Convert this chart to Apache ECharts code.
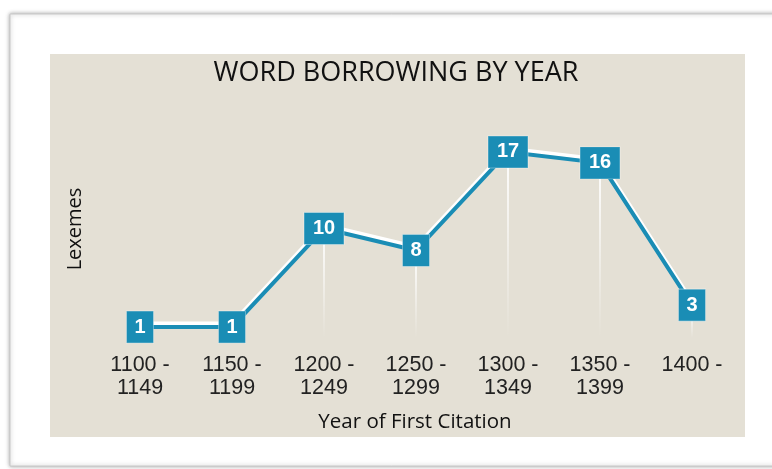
<!DOCTYPE html>
<html><head><meta charset="utf-8">
<script src="https://cdn.jsdelivr.net/npm/echarts@6/dist/echarts.min.js"></script>
<style>html,body{margin:0;padding:0;background:#fff}#c{width:772px;height:469px}</style>
</head><body><div id="c"></div>
<script>
const categories = ['1100 -\n1149','1150 -\n1199','1200 -\n1249','1250 -\n1299','1300 -\n1349','1350 -\n1399','1400 -'];
const lexemes = [1, 1, 10, 8, 17, 16, 3];
const titleText = 'WORD BORROWING BY YEAR';
const xName = 'Year of First Citation';
const yName = 'Lexemes';

const blue = '#1a8db5';
const chart = echarts.init(document.getElementById('c'));
chart.setOption({
  backgroundColor: '#fff',
  animation: false,
  graphic: [
    {type:'rect', shape:{x:10,y:14,width:790,height:452}, style:{fill:'#fff', stroke:'#c8c8c8', lineWidth:1, shadowBlur:4, shadowColor:'rgba(0,0,0,0.35)', shadowOffsetX:0, shadowOffsetY:0}, z:-10},
    {type:'rect', shape:{x:50,y:54,width:695,height:383}, style:{fill:'#e4e0d5'}, z:-9},
    {type:'text', x:396, y:73, style:{text:titleText, font:'27px "Open Sans"', fill:'#111', align:'center', verticalAlign:'middle'}, z:5},
    {type:'text', x:415, y:422, style:{text:xName, font:'20.5px "Open Sans"', fill:'#111', align:'center', verticalAlign:'middle'}, z:5},
    {type:'text', x:75, y:229, rotation:Math.PI/2, style:{text:yName, font:'20px "Open Sans"', fill:'#111', align:'center', verticalAlign:'middle'}, z:5}
  ],
  grid: {left:94, width:644, top:141, height:197},
  xAxis: {
    type:'category', data:categories, boundaryGap:true,
    axisLine:{show:false}, axisTick:{show:false},
    axisLabel:{color:'#222', fontSize:21.5, fontFamily:'Liberation Sans, Arial', lineHeight:23, margin:16, interval:0}
  },
  yAxis: {type:'value', min:0, max:18, show:false, splitLine:{show:false}},
  series: [
    {
      type:'bar', data:lexemes, barWidth:2, barGap:'-100%', silent:true, z:1,
      itemStyle:{color:new echarts.graphic.LinearGradient(0,0,0,1,[{offset:0,color:'rgba(255,255,255,0.95)'},{offset:1,color:'rgba(255,255,255,0)'}])}
    },
    {
      type:'line', data:lexemes, z:3,
      lineStyle:{color:blue, width:4, shadowColor:'#fff', shadowBlur:0, shadowOffsetY:-3.5},
      symbol:'rect',
      symbolSize:function(v){ return [String(v).length > 1 ? 40 : 27, 32]; },
      itemStyle:{color:blue, borderColor:'rgba(255,255,255,0.35)', borderWidth:1},
      label:{show:true, position:'inside', color:'#fff', fontSize:20, fontWeight:'bold', fontFamily:'Liberation Sans, Arial'}
    }
  ]
});
</script></body></html>
